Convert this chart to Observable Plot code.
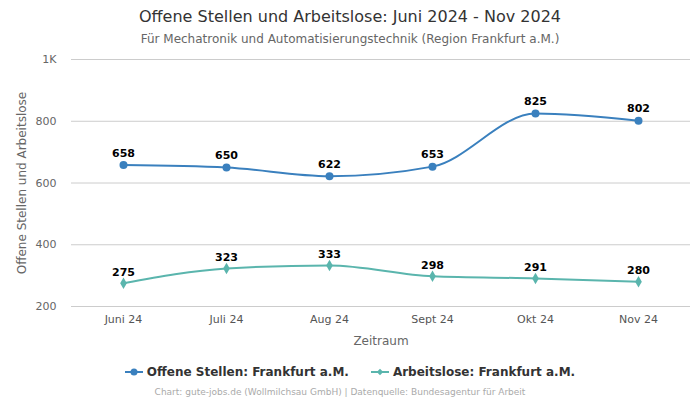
<!DOCTYPE html>
<html>
<head>
<meta charset="utf-8">
<script src="https://cdn.jsdelivr.net/npm/d3@7"></script>
<script src="https://cdn.jsdelivr.net/npm/@observablehq/plot@0.6"></script>
<style>
  body { margin: 0; background: #fff; font-family: "DejaVu Sans", sans-serif; width: 700px; height: 400px; overflow: hidden; }
  #title { position: absolute; top: 7px; left: 0; width: 700px; text-align: center; font-size: 16px; color: #333; }
  #subtitle { position: absolute; top: 32px; left: 0; width: 700px; text-align: center; font-size: 12px; color: #666; }
  #chart { position: absolute; top: 50px; left: 0; }
  #legend { position: absolute; top: 365px; left: 0; width: 700px; display: flex; justify-content: center; gap: 22px; font-size: 12px; font-weight: bold; color: #333; }
  #legend span { display: flex; align-items: center; gap: 4px; }
  #caption { position: absolute; top: 387px; left: -10px; width: 700px; text-align: center; font-size: 9px; color: #aaa; }
</style>
</head>
<body>
<div id="title">Offene Stellen und Arbeitslose: Juni 2024 - Nov 2024</div>
<div id="subtitle">Für Mechatronik und Automatisierungstechnik (Region Frankfurt a.M.)</div>
<div id="chart"></div>
<div id="legend">
  <span><svg width="18" height="10"><line x1="0" y1="5" x2="18" y2="5" stroke="#3a80be" stroke-width="2"/><circle cx="9" cy="5" r="3.5" fill="#3a80be"/></svg>Offene Stellen: Frankfurt a.M.</span>
  <span><svg width="18" height="10"><line x1="0" y1="5" x2="18" y2="5" stroke="#5ab5ad" stroke-width="2"/><path d="M9,1.8L12.2,5L9,8.2L5.8,5Z" fill="#5ab5ad"/></svg>Arbeitslose: Frankfurt a.M.</span>
</div>
<div id="caption">Chart: gute-jobs.de (Wollmilchsau GmbH) | Datenquelle: Bundesagentur für Arbeit</div>
<script>
const months = ["Juni 24", "Juli 24", "Aug 24", "Sept 24", "Okt 24", "Nov 24"];
const offeneStellen = [658, 650, 622, 653, 825, 802];
const arbeitslose = [275, 323, 333, 298, 291, 280];
const yTicks = [200, 400, 600, 800, 1000];

const blue = "#3a80be";
const teal = "#5ab5ad";

const dataO = months.map((m, i) => ({month: m, value: offeneStellen[i]}));
const dataA = months.map((m, i) => ({month: m, value: arbeitslose[i]}));

const chart = Plot.plot({
  width: 700,
  height: 300,
  marginLeft: 71,
  marginRight: 10,
  marginTop: 9,
  marginBottom: 44,
  style: {fontFamily: "DejaVu Sans, sans-serif", fontSize: "11px", background: "transparent", overflow: "visible"},
  x: {type: "point", domain: months, padding: 0.5, label: null},
  y: {domain: [200, 1000], label: null},
  marks: [
    Plot.gridY(yTicks, {stroke: "#cccccc", strokeOpacity: 1}),
    Plot.axisY(yTicks, {tickSize: 0, tickPadding: 15, fill: "#666", fontSize: 11, label: null,
      tickFormat: d => d >= 1000 ? (d / 1000) + "K" : String(d)}),
    Plot.axisX(months, {tickSize: 0, tickPadding: 9, fill: "#555", fontSize: 11, label: null}),
    Plot.text(["Zeitraum"], {frameAnchor: "bottom", dy: 38, fill: "#666", fontSize: 12}),
    Plot.text(["Offene Stellen und Arbeitslose"], {frameAnchor: "left", textAnchor: "middle", dx: -49, rotate: -90, fill: "#666", fontSize: 12}),
    Plot.line(dataO, {x: "month", y: "value", stroke: blue, strokeWidth: 2, curve: "monotone-x"}),
    Plot.line(dataA, {x: "month", y: "value", stroke: teal, strokeWidth: 2, curve: "monotone-x"}),
    Plot.dot(dataO, {x: "month", y: "value", fill: blue, r: 4, symbol: "circle"}),
    Plot.dot(dataA, {x: "month", y: "value", fill: teal, r: 3.5, symbol: "diamond"}),
    Plot.text(dataO, {x: "month", y: "value", text: d => String(d.value), dy: -12, fontWeight: "bold", fontSize: 11, fill: "#000"}),
    Plot.text(dataA, {x: "month", y: "value", text: d => String(d.value), dy: -11, fontWeight: "bold", fontSize: 11, fill: "#000"})
  ]
});
document.getElementById("chart").appendChild(chart);
</script>
</body>
</html>
